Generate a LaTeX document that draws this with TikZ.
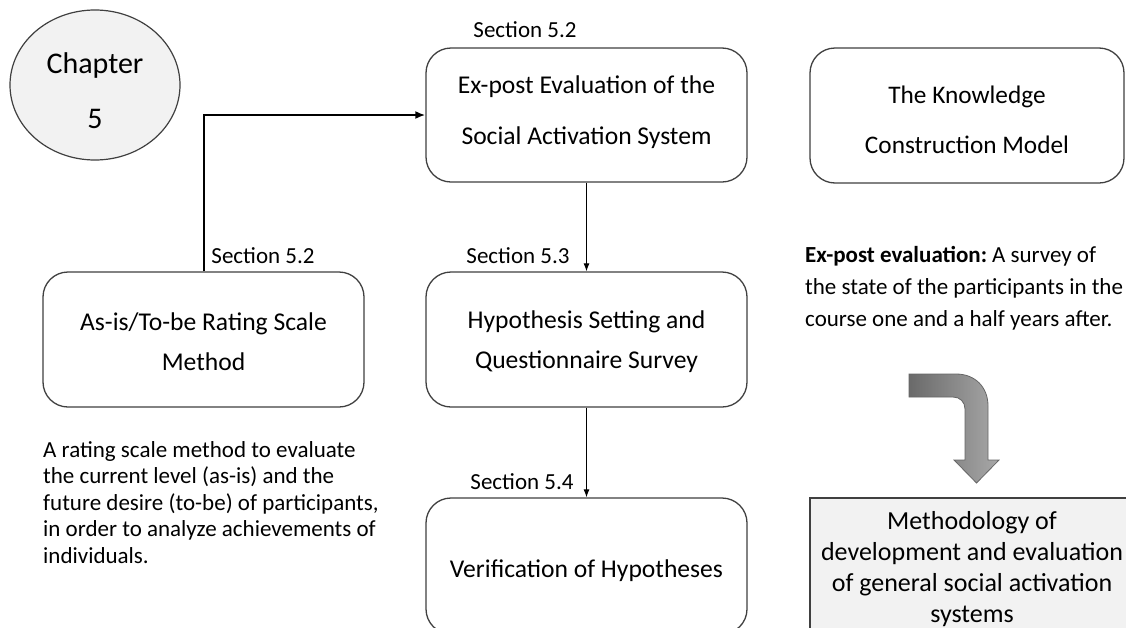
\documentclass[tikz,border=0pt]{standalone}
\usepackage{fontspec}
\setmainfont{Carlito}
\usetikzlibrary{arrows.meta,shapes.geometric}
\definecolor{bord}{HTML}{404040}
\definecolor{lightfill}{HTML}{F2F2F2}
\definecolor{arrL}{HTML}{6A6A6A}
\definecolor{arrR}{HTML}{A8A8A8}
\begin{document}
\begin{tikzpicture}[x=1pt,y=-1pt,
  rbox/.style={draw=bord,line width=1.3,rounded corners=25,minimum width=321,minimum height=134,inner sep=0},
  btext/.style={inner sep=0,align=center,font=\fontsize{25.6}{40}\selectfont},
  lbl/.style={inner sep=0,font=\fontsize{23}{28}\selectfont},
  para/.style={inner sep=0,align=left,anchor=north west},
  thinarrow/.style={draw=black,line width=1,-{Latex[length=8,width=6]}},
  thickarrow/.style={draw=black,line width=2,-{Latex[length=10,width=8]}}]
\useasboundingbox (0,0) rectangle (1126,627);
\fill[white] (0,0) rectangle (1126,627);

% chapter ellipse
\node[ellipse,draw=bord,line width=1.2,fill=lightfill,minimum width=170,minimum height=150,inner sep=0] (chap) at (95,85) {};
\node[btext,font=\fontsize{30}{55}\selectfont] (chapT) at (95,91) {Chapter\\5};

% boxes
\node[rbox] (expost) at (586.5,115) {};
\node[btext,font=\fontsize{25.6}{51}\selectfont] (expostT) at (586.5,112) {Ex-post Evaluation of the\\Social Activation System};

\node[rbox,minimum width=314,minimum height=135] (know) at (967,115.5) {};
\node[btext,font=\fontsize{25.3}{50}\selectfont] (knowT) at (967,120) {The Knowledge\\Construction Model};

\node[rbox,minimum height=135] (asis) at (203.5,339.5) {};
\node[btext] (asisT) at (203.5,342) {As-is/To-be Rating Scale\\Method};

\node[rbox,minimum height=135] (hyp) at (586.5,339.5) {};
\node[btext] (hypT) at (586.5,342) {Hypothesis Setting and\\Questionnaire Survey};

\node[rbox,minimum height=136] (verif) at (586.5,566) {};
\node[btext] (verifT) at (586.5,571) {Verification of Hypotheses};

\node[draw=bord,line width=1.3,fill=lightfill,minimum width=324,minimum height=142,inner sep=0,align=center,font=\fontsize{26}{31}\selectfont] (meth) at (972,569) {Methodology of\\development and evaluation\\of general social activation\\systems};

% section labels
\node[lbl] (s52a) at (525,30) {Section 5.2};
\node[lbl] (s52b) at (263,256) {Section 5.2};
\node[lbl] (s53) at (518,256) {Section 5.3};
\node[lbl] (s54) at (522,482) {Section 5.4};

% paragraphs
\node[para,font=\fontsize{23}{26.6}\selectfont] (lefttext) at (43,441) {A rating scale method to evaluate\\the current level (as-is) and the\\future desire (to-be) of participants,\\in order to analyze achievements of\\individuals.};
\node[para,font=\fontsize{23}{32}\selectfont] (righttext) at (805,246) {\textbf{Ex-post evaluation:}\hspace{-2pt} A survey of\\the state of the participants in the\\course one and a half years after.};

% connectors
\draw[thickarrow] (asis.north) |- (expost.west);
\draw[thinarrow] (expost.south) -- (hyp.north);
\draw[thinarrow] (hyp.south) -- (verif.north);

% fat bent arrow
\shade[left color=arrL,right color=arrR,draw=gray!80!black,line width=0.8]
  (909,374) -- (956,374) .. controls (975,374) and (988,387) .. (988,406)
  -- (988,460) -- (999,460) -- (976.5,483) -- (954,460) -- (965,460)
  -- (965,409) .. controls (965,402) and (960,397) .. (953,397)
  -- (909,397) -- cycle;
\end{tikzpicture}
\end{document}
